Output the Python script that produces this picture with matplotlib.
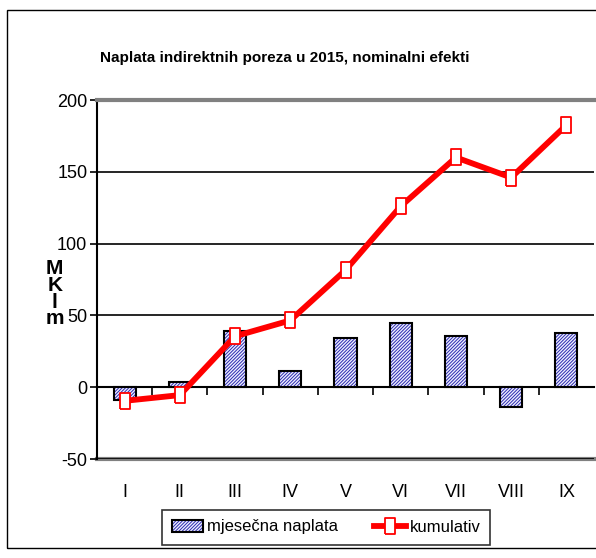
import matplotlib
matplotlib.use("Agg")
import matplotlib.pyplot as plt
from matplotlib.patches import Patch, Rectangle
from matplotlib.lines import Line2D
from matplotlib.legend_handler import HandlerTuple
from matplotlib import font_manager

# podaci
mjeseci = ["I", "II", "III", "IV", "V", "VI", "VII", "VIII", "IX"]
mjesecna_naplata = [-9, 3.5, 39, 11, 34, 45, 36, -14, 38]
kumulativ = [-9.5, -5.5, 35.5, 46.5, 81.5, 126, 160, 146, 182.5]
y_ticks = [-50, 0, 50, 100, 150, 200]

naslov = "Naplata indirektnih poreza u 2015, nominalni efekti"

available = {f.name for f in font_manager.fontManager.ttflist}
fam = [f for f in ["Liberation Sans Narrow", "Liberation Sans", "DejaVu Sans"] if f in available]
plt.rcParams["font.family"] = fam
plt.rcParams["axes.unicode_minus"] = False
plt.rcParams["hatch.linewidth"] = 0.7

fig = plt.figure(figsize=(5.96, 5.58), dpi=100)
ax = fig.add_axes([97 / 596, 1 - 459 / 558, 497 / 596, 359 / 558])

x = list(range(len(mjeseci)))

# stupci: srafura plavo, rub crno
ax.bar(x, mjesecna_naplata, width=0.4, color="#eeeeff", edgecolor="#2b2bb0",
       hatch="//////////", linewidth=0, zorder=3)
ax.bar(x, mjesecna_naplata, width=0.4, fill=False, edgecolor="black",
       linewidth=1.5, zorder=4)

rect = [(-0.6, -1), (0.6, -1), (0.6, 1), (-0.6, 1), (-0.6, -1)]
ax.plot(x, kumulativ, color="#ff0000", linewidth=4.2, marker=rect,
        markersize=12, markerfacecolor="white", markeredgecolor="#ff0000",
        markeredgewidth=1.3, zorder=5)

ax.set_xlim(-0.5, len(mjeseci) - 0.5)
ax.set_ylim(-50, 200)
ax.set_yticks(y_ticks)
ax.tick_params(axis="y", direction="out", length=5, width=1.2, labelsize=13, pad=2)
ax.yaxis.grid(True, color="black", linewidth=1.2, zorder=1)
ax.set_axisbelow(True)

# os x na nuli s crticama izmedju kategorija
ax.spines["bottom"].set_position(("data", 0))
ax.spines["bottom"].set_linewidth(1.5)
ax.spines["left"].set_linewidth(1.5)
ax.spines["top"].set_color("#808080")
ax.spines["top"].set_linewidth(3)
ax.spines["right"].set_visible(False)
ax.set_xticks(x)
ax.set_xticks([i + 0.5 for i in x[:-1]], minor=True)
ax.tick_params(axis="x", which="major", length=0, labelbottom=False)
ax.tick_params(axis="x", which="minor", direction="out", length=6, width=1.2)

sec = ax.secondary_xaxis("bottom")
sec.set_xticks(x)
sec.set_xticklabels(mjeseci)
sec.tick_params(length=0, labelsize=13, pad=18)
sec.spines["bottom"].set_color("#808080")
sec.spines["bottom"].set_linewidth(3)

ax.set_ylabel("M\nK\nl\nm", rotation=0, fontsize=15, fontweight="bold",
              linespacing=0.85, va="center", ha="center")
ax.yaxis.set_label_coords(-0.085, 0.46)

fig.text(285 / 596, 1 - 58 / 558, naslov, ha="center", va="center",
         fontsize=11, fontweight="bold")

# okvir grafikona
fig.add_artist(Rectangle((7 / 596, 1 - 548 / 558), 1.0, (548 - 10) / 558,
                         transform=fig.transFigure, fill=False,
                         edgecolor="black", linewidth=1))

h_bar = (Patch(facecolor="#eeeeff", edgecolor="#2b2bb0", hatch="//////////", linewidth=0),
         Patch(fill=False, edgecolor="black", linewidth=1.5))
h_line = Line2D([], [], color="#ff0000", linewidth=4.2, marker=rect, markersize=11,
                markerfacecolor="white", markeredgecolor="#ff0000", markeredgewidth=1.3)
leg = fig.legend([h_bar, h_line], ["mjesečna naplata", "kumulativ"], ncol=2,
                 loc="center", bbox_to_anchor=(326 / 596, 1 - 527 / 558),
                 handler_map={tuple: HandlerTuple(ndivide=1)},
                 fontsize=12, frameon=True, fancybox=False, edgecolor="black",
                 borderpad=0.6, columnspacing=2.2, handlelength=1.9, handletextpad=0.2)
leg.get_frame().set_linewidth(1.2)

fig.savefig("out.png", dpi=100)
